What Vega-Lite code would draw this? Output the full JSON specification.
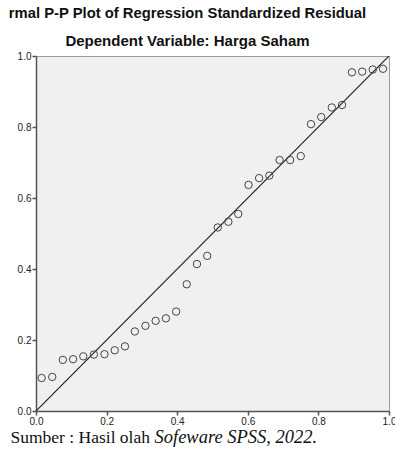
{
  "$schema": "https://vega.github.io/schema/vega-lite/v6.json",
  "width": 353,
  "height": 355,
  "autosize": {"type": "none"},
  "padding": {"left": 36, "top": 56, "right": 6, "bottom": 41},
  "background": "white",
  "title": {
    "text": "rmal P-P Plot of Regression Standardized Residual\u2002\u2002\u2002",
    "subtitle": "Dependent Variable: Harga Saham",
    "anchor": "middle",
    "frame": "group",
    "dx": -25,
    "offset": 2,
    "font": "Liberation Sans",
    "fontSize": 14.8,
    "fontWeight": "bold",
    "color": "#111",
    "subtitleFont": "Liberation Sans",
    "subtitleFontSize": 15,
    "subtitleFontWeight": "bold",
    "subtitleColor": "#111",
    "subtitlePadding": 13
  },
  "config": {
    "view": {"fill": "#f0f0f0", "stroke": "#9a9a9a", "strokeWidth": 1},
    "axis": {
      "grid": false,
      "domainColor": "#555",
      "domainWidth": 1.5,
      "tickColor": "#555",
      "tickWidth": 1.5,
      "tickSize": 4,
      "labelFont": "Liberation Sans",
      "labelFontSize": 10,
      "labelColor": "#222",
      "labelFlush": false,
      "labelPadding": 1,
      "titleFont": "Liberation Serif",
      "titleFontSize": 17.5,
      "titleFontWeight": "normal",
      "titleColor": "#111"
    }
  },
  "layer": [
    {
      "data": {"values": [{"px": 0, "py": 0}, {"px": 1, "py": 1}]},
      "mark": {"type": "line", "color": "#222", "strokeWidth": 1.2, "clip": true},
      "encoding": {
        "x": {"field": "px", "type": "quantitative", "scale": {"domain": [0, 1], "nice": false, "zero": false},
          "axis": {"values": [0, 0.2, 0.4, 0.6, 0.8, 1.0], "format": ".1f",
            "title": "Sumber : Hasil olah", "titleX": -26, "titleY": 31, "titleAlign": "left", "titleBaseline": "alphabetic", "titleAnchor": null}},
        "y": {"field": "py", "type": "quantitative", "scale": {"domain": [0, 1], "nice": false, "zero": false},
          "axis": {"values": [0, 0.2, 0.4, 0.6, 0.8, 1.0], "format": ".1f",
            "title": "Sofeware SPSS, 2022.", "titleFontStyle": "italic", "titleFontSize": 18.5, "titleAngle": 0, "titleX": 118, "titleY": 386, "titleAlign": "left", "titleBaseline": "alphabetic", "titleAnchor": null}}
      }
    },
    {
      "data": {"values": [
        {"obs": 0.016, "exp": 0.093},
        {"obs": 0.046, "exp": 0.096},
        {"obs": 0.076, "exp": 0.144},
        {"obs": 0.105, "exp": 0.146},
        {"obs": 0.134, "exp": 0.154},
        {"obs": 0.164, "exp": 0.159},
        {"obs": 0.194, "exp": 0.160},
        {"obs": 0.223, "exp": 0.171},
        {"obs": 0.252, "exp": 0.182},
        {"obs": 0.280, "exp": 0.224},
        {"obs": 0.310, "exp": 0.240},
        {"obs": 0.339, "exp": 0.254},
        {"obs": 0.368, "exp": 0.261},
        {"obs": 0.397, "exp": 0.280},
        {"obs": 0.427, "exp": 0.357},
        {"obs": 0.456, "exp": 0.414},
        {"obs": 0.485, "exp": 0.437},
        {"obs": 0.515, "exp": 0.517},
        {"obs": 0.545, "exp": 0.533},
        {"obs": 0.573, "exp": 0.555},
        {"obs": 0.602, "exp": 0.637},
        {"obs": 0.632, "exp": 0.656},
        {"obs": 0.661, "exp": 0.663},
        {"obs": 0.690, "exp": 0.707},
        {"obs": 0.720, "exp": 0.707},
        {"obs": 0.750, "exp": 0.718},
        {"obs": 0.779, "exp": 0.808},
        {"obs": 0.808, "exp": 0.828},
        {"obs": 0.838, "exp": 0.855},
        {"obs": 0.867, "exp": 0.862},
        {"obs": 0.895, "exp": 0.954},
        {"obs": 0.924, "exp": 0.956},
        {"obs": 0.954, "exp": 0.962},
        {"obs": 0.983, "exp": 0.964}
      ]},
      "mark": {"type": "point", "filled": false, "stroke": "#444", "strokeWidth": 1, "size": 55, "opacity": 1},
      "encoding": {
        "x": {"field": "obs", "type": "quantitative"},
        "y": {"field": "exp", "type": "quantitative"}
      }
    }
  ]
}
